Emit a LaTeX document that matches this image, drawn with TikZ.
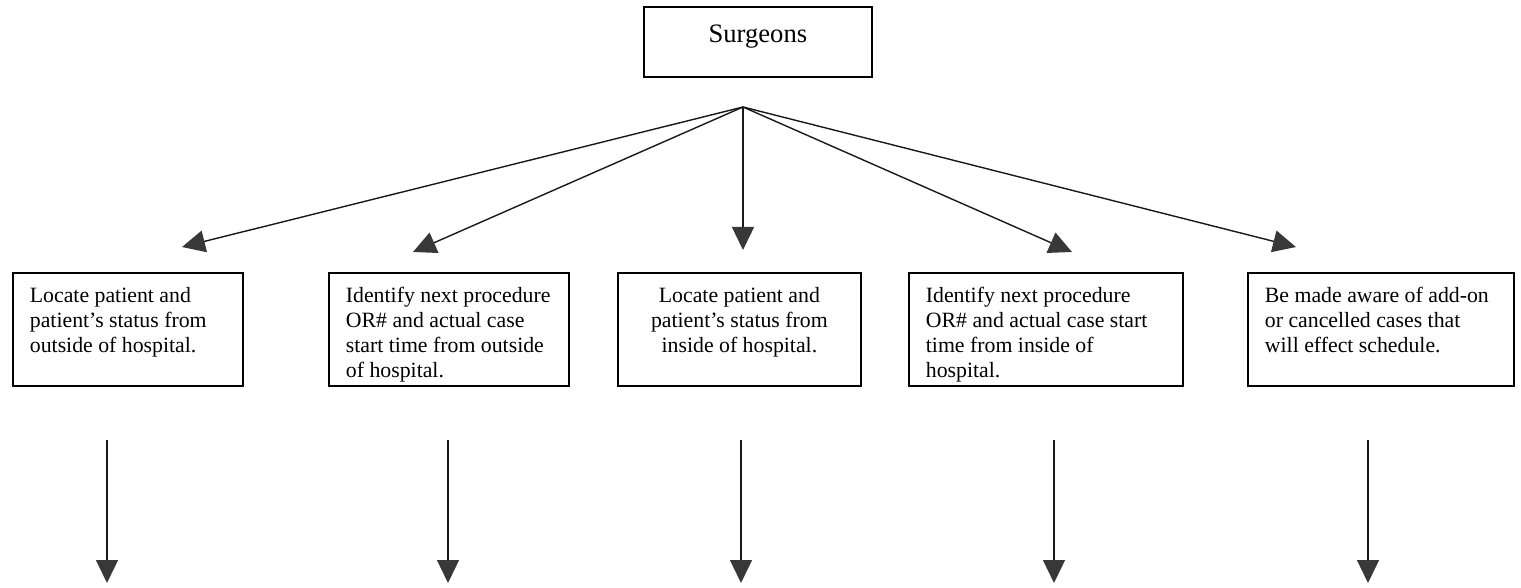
\documentclass[tikz,border=0pt]{standalone}
\usepackage{fontspec}
\setmainfont{Liberation Serif}
\usetikzlibrary{arrows.meta}
\begin{document}
\begin{tikzpicture}[x=0.5pt,y=-0.5pt,
  boxnode/.style={draw=black, line width=0.9pt, anchor=north west, inner xsep=8.5pt, inner ysep=0pt,
    font=\fontsize{10.9}{12.5}\selectfont},
  topnode/.style={draw=black, line width=0.9pt, anchor=north west, inner sep=0pt,
    font=\fontsize{13.3}{15}\selectfont},
  conn/.style={draw=black!90, line width=0.7pt, -{Triangle[length=11.5pt,width=11pt,color=black!78]}}
]
\useasboundingbox (0,0) rectangle (1521,588);

\node[topnode] (sur) at (643,6) {\parbox[c][35pt][t]{114pt}{\centering\rule{0pt}{18pt}Surgeons}};

\node[boxnode] (b1) at (12,272) {\parbox[c][56.5pt][t]{98pt}{\raggedright\rule{0pt}{15pt}Locate patient and\\patient’s status from\\outside of hospital.}};
\node[boxnode] (b2) at (328,272) {\parbox[c][56.5pt][t]{103pt}{\raggedright\rule{0pt}{15pt}Identify next procedure\\OR\# and actual case\\start time from outside\\of hospital.}};
\node[boxnode] (b3) at (617,272) {\parbox[c][56.5pt][t]{104.5pt}{\centering\rule{0pt}{15pt}Locate patient and\\patient’s status from\\inside of hospital.}};
\node[boxnode] (b4) at (908,272) {\parbox[c][56.5pt][t]{120pt}{\raggedright\rule{0pt}{15pt}Identify next procedure\\OR\# and actual case start\\time from inside of\\hospital.}};
\node[boxnode] (b5) at (1247,272) {\parbox[c][56.5pt][t]{116pt}{\raggedright\rule{0pt}{15pt}Be made aware of add-on\\or cancelled cases that\\will effect schedule.}};

\coordinate (apex) at (743,107);
\coordinate (t1) at (182,247);
\coordinate (t2) at (413,252);
\coordinate (t3) at (743,250);
\coordinate (t4) at (1072,252);
\coordinate (t5) at (1296,247);

\foreach \t in {t1,t2,t3,t4,t5} \draw[conn] (apex) -- (\t);

\foreach \i/\x in {1/107,2/448,3/741,4/1054,5/1368} {
  \coordinate (s\i) at (\x,440);
  \coordinate (e\i) at (\x,583);
  \draw[conn] (s\i) -- (e\i);
}
\end{tikzpicture}
\end{document}
